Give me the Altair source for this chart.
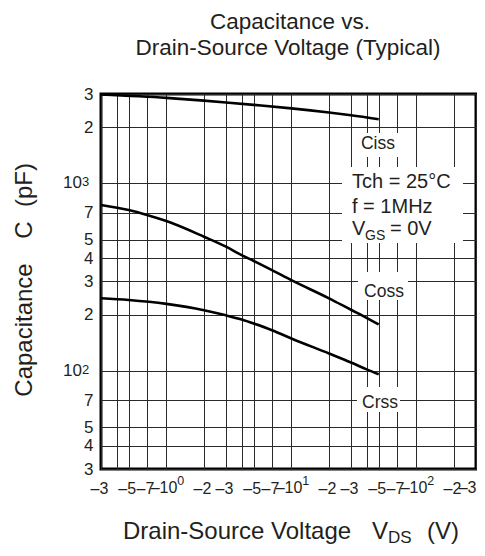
import altair as alt
import pandas as pd

FONT = "Liberation Sans"
INK = "#231f20"

# ---- data ----
ciss_v = [0.3, 1, 2, 3, 5, 10, 20, 30, 50]
ciss_c = [2980, 2860, 2765, 2705, 2625, 2515, 2390, 2310, 2200]
coss_v = [0.3, 0.5, 0.7, 1, 2, 3, 4, 5, 7, 10, 20, 30, 40, 50]
coss_c = [767, 721, 679, 630, 520, 460, 415, 386, 345, 305, 244, 212, 192, 177]
crss_v = [0.3, 0.5, 1, 2, 3, 4, 5, 7, 10, 20, 30, 40, 50]
crss_c = [244, 239, 228, 211, 198, 188, 179, 165, 149, 124, 111, 102, 96]

x_ticks = [0.3, 0.4, 0.5, 0.7, 1, 2, 3, 4, 5, 7, 10, 20, 30, 40, 50, 70, 100, 200, 300]
x_labels = ["–3", "", "–5", "–7", "", "–2", "–3", "", "–5", "–7", "",
            "–2", "–3", "", "–5", "–7", "", "–2", ""]
x_last_label = "–3"
x_pow_vals = [1, 10, 100]
x_pow_mant = ["–10", "–10", "–10"]
x_pow_exps = ["0", "1", "2"]

y_ticks = [30, 40, 50, 70, 100, 200, 300, 400, 500, 700, 1000, 2000, 3000]
y_labels = ["3", "4", "5", "7", "", "2", "3", "4", "5", "7", "", "2", "3"]
y_pow_vals = [100, 1000]
y_pow_mant = ["10", "10"]
y_pow_exps = ["2", "3"]


def label_expr(vals, labs):
    expr = "''"
    for v, l in zip(reversed(vals), reversed(labs)):
        expr = f"datum.value == {v} ? '{l}' : " + expr
    return expr


rows = []
for name, vs, cs in [("Ciss", ciss_v, ciss_c), ("Coss", coss_v, coss_c), ("Crss", crss_v, crss_c)]:
    for v, c in zip(vs, cs):
        rows.append({"series": name, "v": v, "c": c})
df = pd.DataFrame(rows)

X_ENC = alt.X("v:Q", scale=alt.Scale(type="log", domain=[0.3, 300], nice=False),
              axis=alt.Axis(values=x_ticks, labelExpr=label_expr(x_ticks, x_labels), title=None,
                            labelOverlap=False, labelFlush=False, labelPadding=11,
                            labelFontSize=16, labelOffset=-2))
Y_ENC = alt.Y("c:Q", scale=alt.Scale(type="log", domain=[30, 3000], nice=False),
              axis=alt.Axis(values=y_ticks, labelExpr=label_expr(y_ticks, y_labels), title=None,
                            labelOverlap=False, labelFlush=False, labelPadding=8,
                            labelFontSize=17))

lines = alt.Chart(df).mark_line(color="black", strokeWidth=2.6, interpolate="monotone").encode(
    x=X_ENC, y=Y_ENC, detail="series:N")

xp = pd.DataFrame({"v": x_pow_vals, "m": x_pow_mant, "e": x_pow_exps})
x_pow_m = alt.Chart(xp).mark_text(
    align="right", baseline="alphabetic", fontSize=16, font=FONT, color=INK, dx=11
).encode(x=X_ENC, y=alt.value(398.5), text="m:N")
x_pow_e = alt.Chart(xp).mark_text(
    align="left", baseline="alphabetic", fontSize=12.5, font=FONT, color=INK, dx=11
).encode(x=X_ENC, y=alt.value(390.5), text="e:N")

yp = pd.DataFrame({"c": y_pow_vals, "m": y_pow_mant, "e": y_pow_exps})
y_pow_m = alt.Chart(yp).mark_text(
    align="right", baseline="middle", fontSize=17, font=FONT, color=INK
).encode(y=Y_ENC, x=alt.value(-19), text="m:N")
y_pow_e = alt.Chart(yp).mark_text(
    align="left", baseline="alphabetic", fontSize=13, font=FONT, color=INK, dy=3
).encode(y=Y_ENC, x=alt.value(-19), text="e:N")


def txt(s, x, y, size, align="left", angle=0, baseline="alphabetic"):
    return alt.Chart(pd.DataFrame({"t": [s]})).mark_text(
        align=align, baseline=baseline, fontSize=size, font=FONT, color=INK, angle=angle
    ).encode(text="t:N", x=alt.value(x), y=alt.value(y))


def box(x1, x2, y1, y2):
    return alt.Chart(pd.DataFrame({"a": [0]})).mark_rect(color="white").encode(
        x=alt.value(x1), x2=alt.value(x2), y=alt.value(y1), y2=alt.value(y2))


layers = [
    lines, x_pow_m, x_pow_e, y_pow_m, y_pow_e,
    txt(x_last_label, 375.5, 398.5, 16, align="right"),
    box(252, 297, 39, 63), txt("Ciss", 277, 55, 17.5, align="center"),
    box(241, 362, 73, 149),
    txt("Tch = 25°C", 251, 94, 20),
    txt("f = 1MHz", 251, 119, 20),
    txt("V", 251, 141, 20),
    txt("GS", 264, 146, 14),
    txt("= 0V", 289, 141, 20),
    box(257, 307, 178, 206), txt("Coss", 283, 203, 17.5, align="center"),
    box(256, 299, 293, 318), txt("Crss", 279, 314, 17.5, align="center"),
    # titles
    txt("Capacitance vs.", 189, -65.5, 22.5, align="center"),
    txt("Drain-Source Voltage (Typical)", 187, -39, 22.5, align="center"),
    txt("Capacitance", -69, 236, 24, align="center", angle=270),
    txt("C", -69, 136, 24, align="center", angle=270),
    txt("(pF)", -69, 91, 24, align="center", angle=270),
    txt("Drain-Source Voltage", 22, 445, 24),
    txt("V", 271, 445, 24),
    txt("DS", 287, 449, 17),
    txt("(V)", 326, 445, 24),
]

chart = alt.layer(*layers).properties(
    width=375, height=375,
    autosize=alt.AutoSizeParams(type="none"),
    padding={"left": 93, "top": 86, "right": 1, "bottom": 78},
).configure_view(
    stroke="black", strokeWidth=3
).configure_axis(
    domain=False, ticks=False, grid=True, gridColor="#2a2a2a", gridWidth=1, gridOpacity=1,
    labelFont=FONT, labelColor=INK,
)

chart.save("out.html", embed_options={"renderer": "svg", "actions": False})
